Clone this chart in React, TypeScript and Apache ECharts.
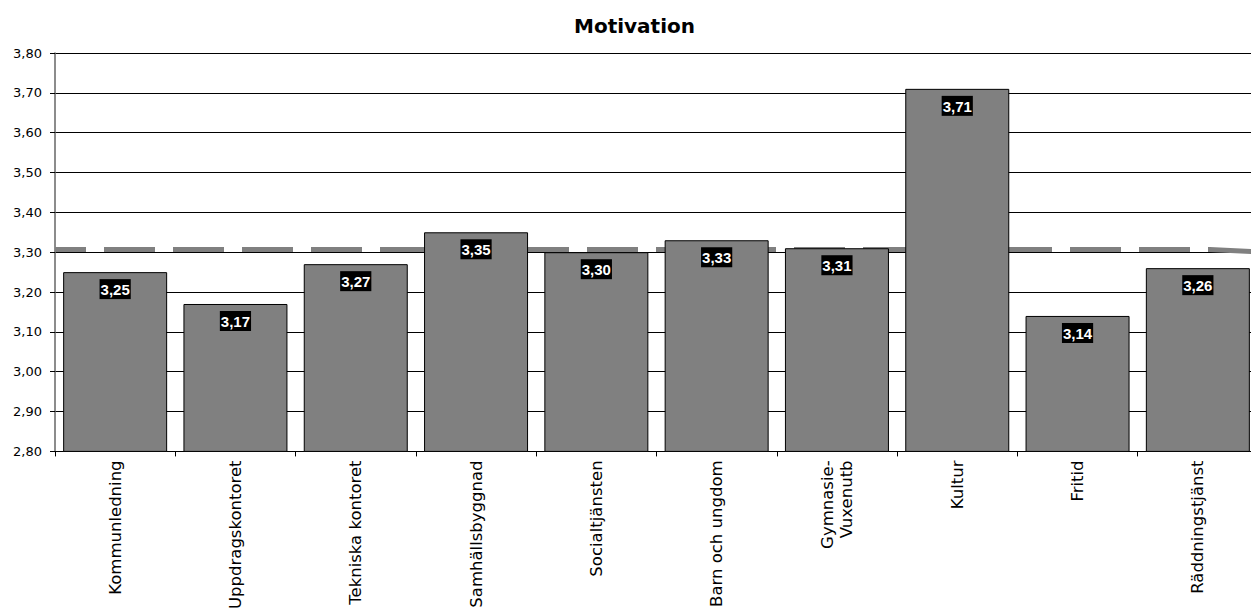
import React, { useEffect, useRef } from "react";
import * as echarts from "echarts";

const categories = [
  "Kommunledning",
  "Uppdragskontoret",
  "Tekniska kontoret",
  "Samhällsbyggnad",
  "Socialtjänsten",
  "Barn och ungdom",
  "Gymnasie-\nVuxenutb",
  "Kultur",
  "Fritid",
  "Räddningstjänst",
];
const motivation = [3.25, 3.17, 3.27, 3.35, 3.3, 3.33, 3.31, 3.71, 3.14, 3.26];
const averageX = [0, 19.2, 20];
const averageY = [3.307, 3.307, 3.301];
const yMin = 2.8;
const yMax = 3.8;
const yStep = 0.1;

const fmt = (v: number) => v.toFixed(2).replace(".", ",");
const FONT = "DejaVu Sans";

export default function App() {
  const ref = useRef<HTMLDivElement>(null);
  useEffect(() => {
    if (!ref.current) return;
    const chart = echarts.init(ref.current, undefined, { renderer: "svg" });
    chart.setOption({
      animation: false,
      backgroundColor: "#ffffff",
      title: {
        text: "Motivation",
        left: 569,
        top: 11,
        textStyle: { fontFamily: FONT, fontWeight: "bold", fontSize: 20, color: "#000" },
      },
      grid: { left: 55, top: 53, width: 1203, height: 401, containLabel: false },
      xAxis: [
        {
          type: "category",
          data: categories,
          axisLine: { show: true, lineStyle: { color: "#000", width: 1 } },
          axisTick: { show: true, length: 5, lineStyle: { color: "#000" } },
          axisLabel: {
            rotate: 90,
            margin: 9,
            interval: 0,
            fontFamily: FONT,
            fontSize: 16.5,
            color: "#000",
            lineHeight: 19,
          },
          splitLine: { show: false },
        },
        { type: "value", min: 0, max: 20, show: false },
      ],
      yAxis: {
        type: "value",
        min: yMin,
        max: yMax,
        interval: yStep,
        axisLine: { show: true, lineStyle: { color: "#666", width: 1.5 } },
        axisTick: { show: true, length: 5, lineStyle: { color: "#000" } },
        axisLabel: {
          margin: 13,
          fontFamily: FONT,
          fontSize: 13,
          color: "#000",
          formatter: (v: number) => fmt(v),
        },
        splitLine: { show: true, lineStyle: { color: "#000", width: 1 } },
      },
      series: [
        {
          type: "line",
          xAxisIndex: 1,
          data: averageX.map((x, i) => [x, averageY[i]]),
          symbol: "none",
          z: 1,
          lineStyle: { color: "#808080", width: 5, type: [51, 18], dashOffset: 20 },
        },
        {
          type: "bar",
          data: motivation,
          barWidth: 104,
          z: 2,
          itemStyle: { color: "#808080", borderColor: "#000", borderWidth: 1 },
          label: {
            show: true,
            position: "insideTop",
            distance: 7,
            formatter: (p: any) => fmt(p.value),
            fontFamily: "Liberation Sans, Arial, sans-serif",
            fontWeight: "bold",
            fontSize: 15,
            lineHeight: 15,
            color: "#fff",
            backgroundColor: "#000",
            padding: [3, 1, 2, 1],
          },
        },
      ],
    });
    return () => chart.dispose();
  }, []);
  return (
    <div
      style={{ position: "absolute", left: 0, top: 0, width: 1251, height: 612, overflow: "hidden" }}
    >
      <div ref={ref} style={{ width: 1262, height: 612 }} />
    </div>
  );
}
